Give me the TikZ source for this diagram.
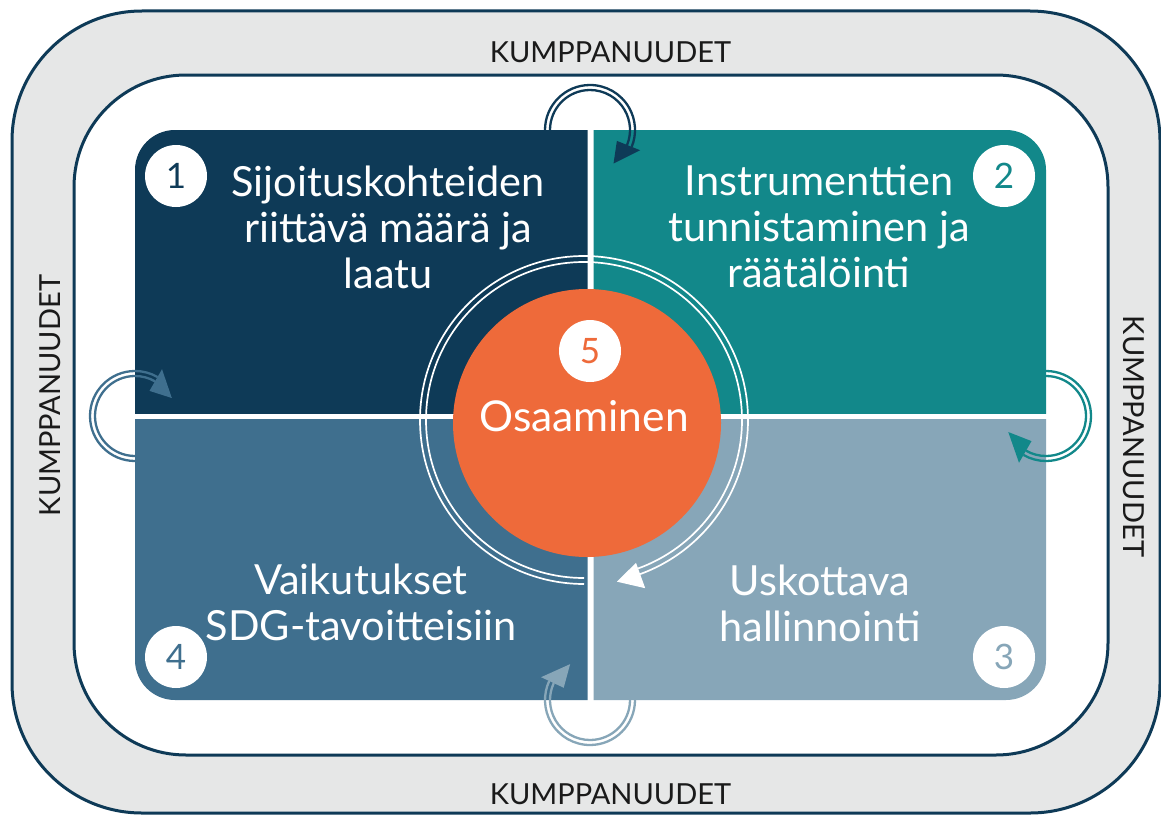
\documentclass[tikz,border=0pt]{standalone}
\usepackage{fontspec}
\setmainfont{Lato}
\definecolor{navy}{HTML}{0E3A57}
\definecolor{tealq}{HTML}{12888A}
\definecolor{lightq}{HTML}{87A6B8}
\definecolor{midq}{HTML}{3F6F8E}
\definecolor{orangeq}{HTML}{EE6A3A}
\definecolor{grayband}{HTML}{E6E7E7}
\definecolor{darktext}{HTML}{1A1A1A}
% loop arrow: #1 centre, #2 start angle, #3 end angle (arrow base), #4 tip angle, #5 colour
\newcommand\myloop[5]{%
  \begin{scope}[shift={#1}]
    \draw[#5, line width=2.3pt] (#2:45pt) arc[start angle=#2, end angle=#3, radius=45pt];
    \draw[#5, line width=2.3pt] (#2:40pt) arc[start angle=#2, end angle=#3, radius=40pt];
    \fill[#5] (#3:29pt) -- (#3:54pt) -- (#4:41pt) -- cycle;
  \end{scope}}
\begin{document}
\begin{tikzpicture}[x=1pt,y=1pt,
  qtext/.style={text=white, align=center, inner sep=0pt, font=\fontsize{41.5}{46}\selectfont},
  numcirc/.style={circle, fill=white, minimum size=62pt, inner sep=0pt, font=\fontsize{35}{35}\selectfont},
  partner/.style={text=darktext, inner sep=0pt, font=\fontsize{29}{30}\selectfont}]
\useasboundingbox (0,0) rectangle (1161,-816);
\fill[white] (0,0) rectangle (1161,-816);
% outer band
\draw[navy, line width=3pt, fill=grayband, rounded corners=130pt] (12,-11) rectangle (1160,-813);
\draw[navy, line width=3pt, fill=white, rounded corners=112pt] (74,-75) rectangle (1108,-755);
% quadrants
\begin{scope}
  \clip (135,-130) rectangle (587.5,-413);
  \fill[navy, rounded corners=40pt] (135,-130) rectangle (1046,-700);
\end{scope}
\begin{scope}
  \clip (593.5,-130) rectangle (1046,-413);
  \fill[tealq, rounded corners=40pt] (135,-130) rectangle (1046,-700);
\end{scope}
\begin{scope}
  \clip (593.5,-419) rectangle (1046,-700);
  \fill[lightq, rounded corners=40pt] (135,-130) rectangle (1046,-700);
\end{scope}
\begin{scope}
  \clip (135,-419) rectangle (587.5,-700);
  \fill[midq, rounded corners=40pt] (135,-130) rectangle (1046,-700);
\end{scope}
% central ring
\draw[white, line width=1.7pt] (584,-420) ++(270:164pt) arc[start angle=270, end angle=-70, radius=164pt];
\draw[white, line width=1.7pt] (584,-420) ++(270:158pt) arc[start angle=270, end angle=-70, radius=158pt];
\fill[white, shift={(584,-420)}] (-70:152pt) -- (-70:179pt) -- (-78.5:165pt) -- cycle;
% core
\node[circle, fill=orangeq, minimum size=268pt, inner sep=0pt] (core) at (587,-423) {};
\node[text=white, inner sep=0pt, anchor=base, font=\fontsize{42.5}{43}\selectfont] (osa) at (584,-431.5) {Osaaminen};
% loop arrows
\myloop{(590,-130)}{180}{-22}{-55}{navy}
\myloop{(1046,-416)}{90}{-120}{-157}{tealq}
\myloop{(590,-700)}{0}{-205}{-241}{lightq}
\myloop{(135,-416)}{270}{60}{26}{midq}
% number badges
\node[numcirc, text=navy] (n1) at (176,-176) {1};
\node[numcirc, text=tealq] (n2) at (1004,-176) {2};
\node[numcirc, text=lightq] (n3) at (1004,-657) {3};
\node[numcirc, text=midq] (n4) at (176,-657) {4};
\node[numcirc, text=orangeq] (n5) at (590,-351) {5};
% quadrant texts
\node[qtext] (t1) at (388,-227) {Sijoituskohteiden\\riittävä määrä ja\\laatu};
\node[qtext] (t2) at (819,-226.5) {Instrumenttien\\tunnistaminen ja\\räätälöinti};
\node[qtext] (t3) at (820,-603) {Uskottava\\hallinnointi};
\node[qtext] (t4) at (361,-602) {Vaikutukset\\SDG-tavoitteisiin};
% partner labels
\node[partner] (kt) at (610.5,-52) {KUMPPANUUDET};
\node[partner] (kb) at (610.5,-794) {KUMPPANUUDET};
\node[partner, rotate=90] (kl) at (50,-395.5) {KUMPPANUUDET};
\node[partner, rotate=-90] (kr) at (1133.5,-436.5) {KUMPPANUUDET};
\end{tikzpicture}
\end{document}
